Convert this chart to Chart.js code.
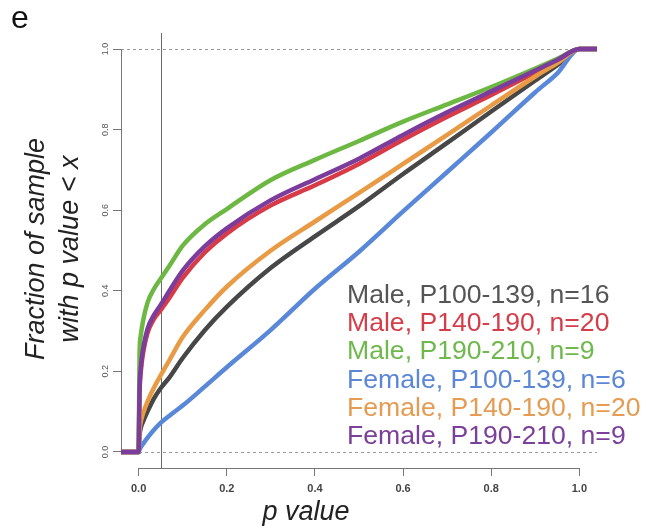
<!DOCTYPE html>
<html lang="en">
<head>
    <meta charset="UTF-8">
    <title>p value CDF</title>
    <script src="https://cdn.jsdelivr.net/npm/chart.js"></script>
    <style>
        html, body { margin: 0; padding: 0; background: #fff; }
    </style>
</head>
<body>
    <canvas id="myChart" width="654" height="528"></canvas>

    <script>
        // p value grid shared by every curve
        const pGrid = [-0.04, 0, 0.002, 0.005, 0.01, 0.02, 0.035, 0.05, 0.07, 0.1, 0.15, 0.2, 0.3, 0.4, 0.5, 0.6, 0.7, 0.8, 0.9, 0.95, 1.0, 1.04];

        // fraction of sample with p value < x
        const maleP100 = [0, 0, 0.04, 0.06, 0.075, 0.1, 0.133, 0.158, 0.185, 0.233, 0.302, 0.36, 0.457, 0.535, 0.61, 0.69, 0.767, 0.845, 0.922, 0.96, 1, 1];
        const maleP140 = [0, 0, 0.14, 0.2, 0.245, 0.295, 0.33, 0.352, 0.383, 0.432, 0.495, 0.542, 0.612, 0.662, 0.715, 0.775, 0.832, 0.886, 0.942, 0.97, 1, 1];
        const maleP190 = [0, 0, 0.24, 0.29, 0.325, 0.37, 0.405, 0.43, 0.462, 0.512, 0.565, 0.603, 0.675, 0.725, 0.772, 0.82, 0.863, 0.906, 0.952, 0.976, 1, 1];
        const femaleP100 = [0, 0, 0.005, 0.012, 0.02, 0.035, 0.055, 0.072, 0.09, 0.115, 0.162, 0.21, 0.303, 0.405, 0.497, 0.597, 0.695, 0.793, 0.893, 0.94, 1, 1];
        const femaleP140 = [0, 0, 0.05, 0.075, 0.095, 0.125, 0.16, 0.19, 0.228, 0.285, 0.352, 0.41, 0.5, 0.572, 0.643, 0.715, 0.787, 0.86, 0.932, 0.965, 1, 1];
        const femaleP190 = [0, 0, 0.15, 0.21, 0.255, 0.305, 0.34, 0.365, 0.4, 0.45, 0.51, 0.555, 0.625, 0.677, 0.728, 0.787, 0.843, 0.895, 0.947, 0.973, 1, 1];

        const seriesLabels = [
            'Male, P100-139, n=16',
            'Male, P140-190, n=20',
            'Male, P190-210, n=9',
            'Female, P100-139, n=6',
            'Female, P140-190, n=20',
            'Female, P190-210, n=9'
        ];
        const seriesValues = [maleP100, maleP140, maleP190, femaleP100, femaleP140, femaleP190];
        const lineColors = ['#474747', '#d63b47', '#6cb843', '#5a88d8', '#e99a45', '#7b3c9c'];
        const textColors = ['#555555', '#d43d4a', '#6fb84c', '#5b87d6', '#e59c52', '#7b4099'];

        const xTicks = [0, 0.2, 0.4, 0.6, 0.8, 1.0];
        const yTicks = [0, 0.2, 0.4, 0.6, 0.8, 1.0];
        const cutoff = 0.05;

        const FONT = "'Liberation Sans', Arial, sans-serif";

        // R style decorations: dashed 0/1 lines, cutoff line, axis lines, texts
        const decorations = {
            id: 'decorations',
            beforeDatasetsDraw(chart) {
                const ctx = chart.ctx;
                const x = chart.scales.x, y = chart.scales.y;
                const area = chart.chartArea;
                ctx.save();
                ctx.lineWidth = 1;

                ctx.strokeStyle = '#9a9a9a';
                ctx.setLineDash([3, 3]);
                [0, 1].forEach(function(v) {
                    const py = Math.round(y.getPixelForValue(v)) + 0.5;
                    ctx.beginPath();
                    ctx.moveTo(area.left, py);
                    ctx.lineTo(area.right, py);
                    ctx.stroke();
                });
                ctx.setLineDash([]);

                ctx.strokeStyle = '#6a6a6a';
                const cx = Math.round(x.getPixelForValue(cutoff)) + 0.5;
                ctx.beginPath();
                ctx.moveTo(cx, area.top);
                ctx.lineTo(cx, area.bottom);
                ctx.stroke();

                // axis lines spanning the tick range only
                ctx.strokeStyle = '#777';
                const ax = Math.round(area.left) + 0.5;
                ctx.beginPath();
                ctx.moveTo(ax, y.getPixelForValue(yTicks[0]));
                ctx.lineTo(ax, y.getPixelForValue(yTicks[yTicks.length - 1]));
                ctx.stroke();
                const ay = Math.round(area.bottom) + 0.5;
                ctx.beginPath();
                ctx.moveTo(x.getPixelForValue(xTicks[0]), ay);
                ctx.lineTo(x.getPixelForValue(xTicks[xTicks.length - 1]), ay);
                ctx.stroke();
                ctx.restore();
            },
            afterDraw(chart) {
                const ctx = chart.ctx;
                const y = chart.scales.y;
                const area = chart.chartArea;
                ctx.save();

                // y tick labels, parallel to the axis
                ctx.fillStyle = '#555';
                ctx.font = '9px ' + FONT;
                ctx.textAlign = 'center';
                ctx.textBaseline = 'middle';
                yTicks.forEach(function(v) {
                    ctx.save();
                    ctx.translate(area.left - 15, y.getPixelForValue(v));
                    ctx.rotate(-Math.PI / 2);
                    ctx.fillText(v.toFixed(1), 0, 0);
                    ctx.restore();
                });

                // axis titles
                ctx.fillStyle = '#222';
                ctx.font = 'italic 27px ' + FONT;
                ctx.textBaseline = 'alphabetic';
                ctx.fillText('p value', 306, 520);

                ctx.save();
                ctx.translate(0, 249);
                ctx.rotate(-Math.PI / 2);
                ctx.textBaseline = 'middle';
                ctx.fillText('Fraction of sample', 0, 36);
                ctx.fillText('with p value < x', 0, 70);
                ctx.restore();

                // panel letter
                ctx.font = '32px ' + FONT;
                ctx.textAlign = 'left';
                ctx.fillStyle = '#111';
                ctx.fillText('e', 11, 28);

                // legend text
                ctx.font = '26.6px ' + FONT;
                seriesLabels.forEach(function(label, i) {
                    ctx.fillStyle = textColors[i];
                    ctx.fillText(label, 347, 303 + i * 28.2);
                });
                ctx.restore();
            }
        };

        const datasets = seriesLabels.map(function(label, i) {
            return {
                label: label,
                data: pGrid.map(function(p, j) { return { x: p, y: seriesValues[i][j] }; }),
                borderColor: lineColors[i],
                backgroundColor: lineColors[i],
                borderWidth: 4.5,
                pointRadius: 0,
                cubicInterpolationMode: 'monotone',
                fill: false,
                order: seriesLabels.length - i
            };
        });

        const config = {
            type: 'line',
            data: { datasets: datasets },
            options: {
                responsive: false,
                animation: false,
                devicePixelRatio: 1,
                layout: { padding: { left: 0, top: 33, right: 57, bottom: 0 } },
                plugins: {
                    legend: { display: false },
                    tooltip: { enabled: false }
                },
                scales: {
                    x: {
                        type: 'linear',
                        min: -0.04,
                        max: 1.04,
                        afterBuildTicks: function(axis) {
                            axis.ticks = xTicks.map(function(v) { return { value: v }; });
                        },
                        afterFit: function(scale) { scale.height = 60; },
                        border: { display: false },
                        grid: { drawOnChartArea: false, drawTicks: true, tickLength: 8, color: '#777' },
                        ticks: {
                            color: '#444',
                            padding: 6,
                            maxRotation: 0,
                            font: { family: FONT, size: 11, weight: 'bold' },
                            callback: function(v) { return v.toFixed(1); }
                        }
                    },
                    y: {
                        type: 'linear',
                        min: -0.04,
                        max: 1.04,
                        afterBuildTicks: function(axis) {
                            axis.ticks = yTicks.map(function(v) { return { value: v }; });
                        },
                        afterFit: function(scale) { scale.width = 121; },
                        border: { display: false },
                        grid: { drawOnChartArea: false, drawTicks: true, tickLength: 8, color: '#777' },
                        ticks: { display: false }
                    }
                }
            },
            plugins: [decorations]
        };

        const myChart = new Chart(document.getElementById('myChart'), config);
    </script>
</body>
</html>
